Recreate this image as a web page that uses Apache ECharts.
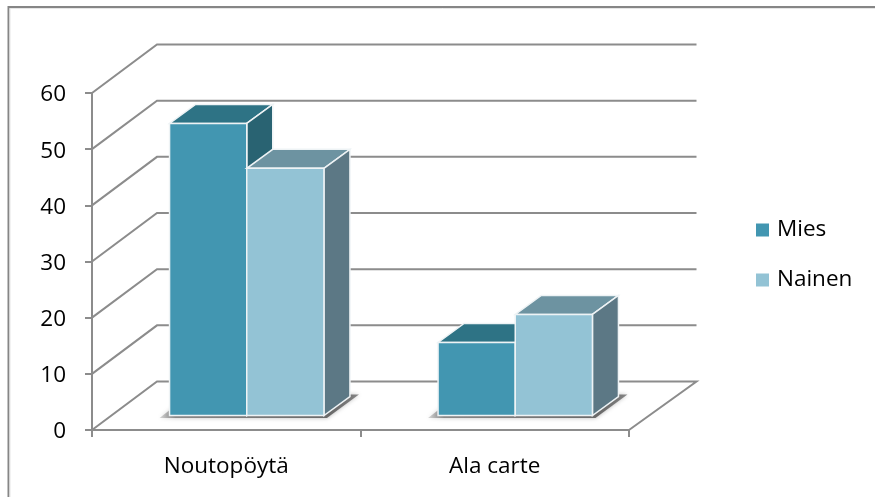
<!DOCTYPE html>
<html>
<head>
<meta charset="utf-8">
<title>Noutopöytä ja Ala carte</title>
<style>
html,body{margin:0;padding:0;background:#fff}
#chart{width:875px;height:497px}
</style>
<script src="https://cdn.jsdelivr.net/npm/echarts@6/dist/echarts.min.js"></script>
</head>
<body>
<div id="chart"></div>
<script>
// Chart data
var categories = ['Noutopöytä', 'Ala carte'];
var miesValues = [52, 13];
var nainenValues = [44, 18];
var wallTicks = [0, 10, 20, 30, 40, 50, 60];

// Oblique projection: room depth and bar depth in pixels
var ROOM_DX = 65, ROOM_DY = 48.5;
var ROOM_EXTRA = 2.5;
var FRONT_DX = 20.5, FRONT_DY = 14.5;
var BAR_DX = 26, BAR_DY = 19;
var BAR_RATIO = 0.2875;
var GRID_COLOR = '#8c8c8c';

var palette = {
  Mies: { front: '#4296b1', top: '#2e7385', side: '#296372' },
  Nainen: { front: '#93c3d5', top: '#6d93a1', side: '#5c7885' }
};

function poly(points, fill, stroke, width) {
  return {
    type: 'polygon',
    shape: { points: points },
    style: { fill: fill, stroke: stroke || null, lineWidth: width || 0 }
  };
}

// Wall and side-wall grid lines, one per value tick
function renderWallLine(params, api) {
  var value = api.value(0);
  var y = api.coord([0, value])[1];
  var cs = params.coordSys;
  var left = cs.x;
  var right = cs.x + cs.width + ROOM_DX + ROOM_EXTRA;
  var pts = [[left, y], [left + ROOM_DX, y - ROOM_DY], [right, y - ROOM_DY]];
  if (value === 0) {
    pts.push([cs.x + cs.width, y]);
  }
  return {
    type: 'polyline',
    shape: { points: pts },
    style: { fill: null, stroke: GRID_COLOR, lineWidth: 2 }
  };
}

// Soft shadow cast on the floor by each pair of bars
function renderShadow(params, api) {
  var c = api.coord([api.value(0), 0]);
  var w = api.size([1, 0])[0] * BAR_RATIO;
  var x0 = c[0] + FRONT_DX - w;
  var x1 = c[0] + FRONT_DX + w;
  var y = c[1] - FRONT_DY;
  return {
    type: 'polygon',
    shape: { points: [[x0 - 10, y + 2.5], [x1 + 3, y + 2.5], [x1 + 35, y - 21], [x0 + 20, y - 21]] },
    style: {
      fill: new echarts.graphic.LinearGradient(0, 0, 1, 0, [
        { offset: 0, color: 'rgba(110,110,110,0.25)' },
        { offset: 0.08, color: 'rgba(110,110,110,0.75)' },
        { offset: 0.85, color: 'rgba(95,95,95,0.9)' },
        { offset: 1, color: 'rgba(100,100,100,0.75)' }
      ]),
      shadowBlur: 4,
      shadowColor: 'rgba(120,120,120,0.6)'
    }
  };
}

// One 3D column: top, side and front faces
function barRenderer(name, slot) {
  var colors = palette[name];
  return function (params, api) {
    var cat = api.value(0);
    var val = api.value(1);
    var w = api.size([1, 0])[0] * BAR_RATIO;
    var base = api.coord([cat, 0]);
    var tip = api.coord([cat, val]);
    var x0 = base[0] + FRONT_DX + slot * w;
    var x1 = x0 + w;
    var yb = base[1] - FRONT_DY;
    var yt = tip[1] - FRONT_DY;
    var edge = '#eef3f5';
    return {
      type: 'group',
      children: [
        poly([[x0, yt], [x1, yt], [x1 + BAR_DX, yt - BAR_DY], [x0 + BAR_DX, yt - BAR_DY]], colors.top, edge, 1.5),
        poly([[x1, yt], [x1 + BAR_DX, yt - BAR_DY], [x1 + BAR_DX, yb - BAR_DY], [x1, yb]], colors.side, edge, 1.5),
        poly([[x0, yt], [x1, yt], [x1, yb], [x0, yb]], colors.front, edge, 1.5)
      ]
    };
  };
}

function pairs(values) {
  return values.map(function (v, i) { return [i, v]; });
}

var fontFamily = '"Open Sans", Lato, sans-serif';
var fontSize = 22.5;
var chart = echarts.init(document.getElementById('chart'), null, { renderer: 'canvas' });

chart.setOption({
  animation: false,
  backgroundColor: '#ffffff',
  grid: { left: 92, right: 246, top: 93, bottom: 67 },
  xAxis: {
    type: 'category',
    data: categories,
    axisLine: { lineStyle: { color: GRID_COLOR, width: 2 } },
    axisTick: { show: true, length: 7, lineStyle: { color: GRID_COLOR, width: 2 } },
    axisLabel: { color: '#000', fontSize: fontSize, fontFamily: fontFamily, margin: 25 }
  },
  yAxis: {
    type: 'value',
    min: 0,
    max: 60,
    interval: 10,
    splitLine: { show: false },
    axisLine: { show: true, lineStyle: { color: GRID_COLOR, width: 2 } },
    axisTick: { show: true, length: 7, lineStyle: { color: GRID_COLOR, width: 2 } },
    axisLabel: {
      margin: 26,
      formatter: '{v|{value}}',
      rich: { v: { color: '#000', fontSize: fontSize, fontFamily: fontFamily, padding: [4, 0, 0, 0] } }
    }
  },
  legend: {
    orient: 'vertical',
    left: 751,
    top: 213.5,
    data: ['Mies', 'Nainen'],
    icon: 'rect',
    itemWidth: 13,
    itemHeight: 13,
    itemGap: 27,
    selectedMode: false,
    textStyle: { color: '#000', fontSize: fontSize, fontFamily: fontFamily, padding: [0, 0, 0, 3] }
  },
  graphic: [{
    type: 'polyline',
    silent: true,
    shape: { points: [[8.5, 497], [8.5, 7], [875, 7]] },
    style: { fill: null, stroke: '#868686', lineWidth: 2 }
  }, {
    type: 'polyline',
    silent: true,
    shape: { points: [[10, 497], [10, 8.5], [875, 8.5]] },
    style: { fill: null, stroke: '#e6e6e6', lineWidth: 1 }
  }],
  series: [{
    type: 'custom',
    name: 'seinä',
    z: 1,
    silent: true,
    renderItem: renderWallLine,
    encode: { y: 0 },
    data: wallTicks.map(function (t) { return [t]; })
  }, {
    type: 'custom',
    name: 'varjo',
    z: 2,
    silent: true,
    renderItem: renderShadow,
    encode: { x: 0 },
    data: categories.map(function (c, i) { return [i]; })
  }, {
    type: 'custom',
    name: 'Mies',
    z: 3,
    itemStyle: { color: palette.Mies.front },
    renderItem: barRenderer('Mies', -1),
    encode: { x: 0, y: 1 },
    data: pairs(miesValues)
  }, {
    type: 'custom',
    name: 'Nainen',
    z: 4,
    itemStyle: { color: palette.Nainen.front },
    renderItem: barRenderer('Nainen', 0),
    encode: { x: 0, y: 1 },
    data: pairs(nainenValues)
  }]
});
</script>
</body>
</html>
